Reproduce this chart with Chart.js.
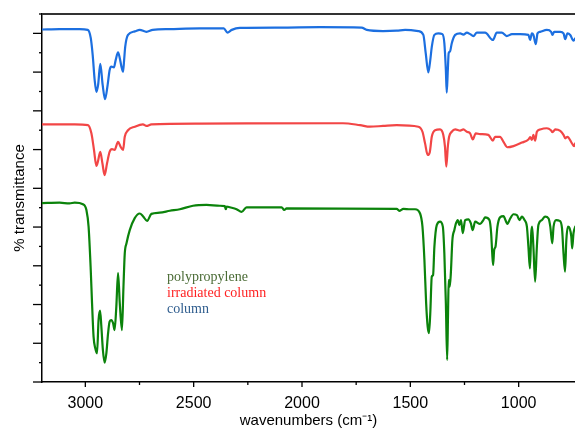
<!DOCTYPE html>
<html><head><meta charset="utf-8">
<script src="https://cdn.jsdelivr.net/npm/chart.js@4.4.1/dist/chart.umd.min.js"></script>
<style>html,body{margin:0;padding:0;background:#fff;overflow:hidden}canvas{display:block}</style>
</head><body>
<canvas id="c" width="575" height="428"></canvas>
<script>
const seriesLabels = ['column', 'irradiated column', 'polypropylene'];
const seriesColors = ['#1c6fe0', '#f24646', '#0b830b'];
const legendColors = ['#2f5d8e', '#ff2222', '#4a6b35'];

const columnWavenumbers = [3202,3119,3026,2989,2975,2966,2957,2949,2941,2931,2920,2909,2897,2888,2880,2868,2860,2849,2841,2834,2826,2821,2816,2803,2772,2749,2718,2689,2610,2472,2361,2344,2324,2287,2102,1917,1725,1701,1626,1563,1524,1463,1440,1429,1417,1408,1401,1389,1371,1352,1343,1336,1332,1327,1323,1317,1309,1293,1270,1255,1239,1224,1209,1193,1155,1119,1101,1078,1055,1031,993,955,947,939,932,921,913,901,870,850,844,836,808,793,785,775,762,747,739];
const columnValues = [91.0,91.1,91.1,90.9,88.8,84.4,78.0,74.9,76.7,82.1,76.7,73.0,76.7,80.5,81.4,81.2,83.1,85.1,83.6,81.6,80.1,83.1,86.5,89.6,90.5,90.9,90.4,90.9,91.1,91.3,91.3,90.2,90.9,91.4,91.5,91.6,91.5,90.9,90.6,90.7,90.9,90.6,89.6,84.9,79.9,83.1,86.5,89.6,90.0,89.8,87.5,80.5,74.7,80.5,84.9,85.3,87.4,89.6,90.0,89.7,90.2,89.8,89.3,90.2,90.2,88.3,90.2,90.2,89.3,89.8,89.8,89.6,88.3,90.0,89.6,87.2,90.0,90.4,90.9,90.4,89.6,90.4,90.4,90.0,88.5,90.0,89.6,88.1,88.7];

const irradiatedWavenumbers = [3202,3049,2988,2972,2960,2949,2942,2931,2921,2911,2900,2888,2877,2865,2849,2837,2826,2818,2803,2772,2734,2718,2695,2472,1811,1732,1686,1626,1563,1463,1444,1432,1420,1410,1401,1386,1363,1348,1340,1334,1327,1321,1309,1293,1270,1255,1239,1224,1212,1198,1178,1140,1119,1109,1086,1070,1052,1024,985,955,947,939,932,924,916,901,870,851,844,831,808,793,785,775,754,744,739];
const irradiatedValues = [66.5,66.5,66.3,64.2,59.9,55.8,56.9,59.4,56.4,53.4,56.4,59.4,60.1,59.9,62.0,60.7,59.9,63.3,65.0,65.9,66.5,66.1,66.5,66.7,66.8,66.3,65.9,66.1,66.3,65.9,64.6,61.6,58.6,59.4,63.3,65.0,65.2,63.8,60.7,55.6,60.7,63.3,64.6,65.2,64.9,65.2,64.6,64.2,62.6,64.2,64.0,63.8,62.3,63.3,63.3,62.0,60.6,60.9,61.8,62.6,63.2,62.5,63.8,62.3,64.6,65.2,65.5,65.0,64.5,65.2,64.8,63.8,62.9,63.3,61.6,60.9,61.6];

const polypropyleneWavenumbers = [3202,3119,3073,3049,3011,2995,2985,2975,2969,2962,2954,2946,2939,2932,2926,2919,2911,2903,2895,2888,2880,2872,2865,2857,2849,2841,2831,2824,2818,2810,2795,2772,2749,2734,2715,2695,2657,2610,2564,2503,2441,2379,2356,2352,2347,2333,2302,2279,2256,2094,2082,2071,1563,1551,1532,1501,1478,1455,1444,1435,1427,1420,1414,1408,1401,1395,1389,1378,1363,1350,1343,1336,1330,1326,1323,1318,1313,1306,1297,1289,1281,1274,1266,1258,1247,1232,1221,1212,1201,1178,1163,1155,1135,1127,1122,1118,1113,1107,1098,1086,1070,1058,1052,1039,1024,1008,996,985,973,962,955,948,942,938,932,924,916,909,893,878,862,854,845,839,827,811,800,793,786,780,773,765,757,753,747,739];
const polypropyleneValues = [46.2,46.3,46.1,46.3,45.9,44.4,40.1,28.9,20.3,11.7,8.7,7.4,16.0,18.4,14.3,8.3,5.0,7.4,12.6,15.6,16.0,15.2,13.4,19.4,28.1,20.3,13.4,24.6,33.2,35.8,39.2,42.3,43.5,42.8,41.6,43.4,43.7,44.2,44.6,45.5,45.7,45.5,45.4,44.6,45.3,45.1,44.6,43.9,45.1,45.1,44.4,44.8,44.7,44.2,44.7,44.6,44.6,43.5,40.1,31.5,20.3,14.3,12.6,17.7,27.2,27.6,34.9,40.5,41.4,40.1,33.2,20.3,5.7,17.7,26.3,24.6,28.1,36.6,39.2,41.0,41.8,40.5,41.8,38.4,41.8,42.0,41.0,39.2,41.4,40.8,41.8,42.5,41.8,38.4,33.2,30.2,34.1,34.9,40.1,42.5,42.8,41.4,40.8,42.2,43.3,43.1,41.8,42.7,41.8,40.1,34.9,29.3,38.4,40.1,34.9,25.9,34.9,40.5,41.8,42.7,42.2,40.1,35.8,40.1,41.8,41.6,39.7,33.2,28.5,36.6,40.1,39.7,37.5,34.5,38.4,40.1];

const xTickValues = [3000,2750,2500,2250,2000,1750,1500,1250,1000];
const xTickLabels = ['3000','','2500','','2000','','1500','','1000'];
const yTickValues = [0,5,10,15,20,25,30,35,40,45,50,55,60,65,70,75,80,85,90,95];

function pts(xs, ys) { return xs.map((x, i) => ({ x: x, y: ys[i] })); }

const seriesData = [
  pts(columnWavenumbers, columnValues),
  pts(irradiatedWavenumbers, irradiatedValues),
  pts(polypropyleneWavenumbers, polypropyleneValues)
];

const SANS = "'Liberation Sans', Arial, sans-serif";
const SERIF = "'Liberation Serif', 'Times New Roman', serif";

const decorations = {
  id: 'decorations',
  afterDraw(chart) {
    const { ctx, chartArea: a, scales } = chart;
    const x = scales.x, y = scales.y;
    ctx.save();
    ctx.strokeStyle = '#000';
    ctx.lineWidth = 1.3;
    yTickValues.forEach(v => {
      const py = y.getPixelForValue(v);
      const len = (v % 10 === 0) ? 9 : 3;
      ctx.beginPath(); ctx.moveTo(a.left - len, py); ctx.lineTo(a.left, py); ctx.stroke();
    });
    xTickValues.forEach(v => {
      const px = x.getPixelForValue(v);
      const len = (v % 500 === 0) ? 5 : 3;
      ctx.beginPath(); ctx.moveTo(px, a.bottom); ctx.lineTo(px, a.bottom + len); ctx.stroke();
    });
    ctx.strokeStyle = '#333';
    ctx.lineWidth = 2;
    ctx.beginPath(); ctx.moveTo(a.left, a.top); ctx.lineTo(a.right, a.top); ctx.stroke();
    // in-plot legend (text only)
    ctx.font = '14px ' + SERIF;
    ctx.textBaseline = 'alphabetic';
    ctx.textAlign = 'left';
    const order = [2, 1, 0];
    order.forEach((di, k) => {
      ctx.fillStyle = legendColors[di];
      ctx.fillText(chart.data.datasets[di].label, a.left + 125, a.top + 266.5 + k * 16.3);
    });
    ctx.restore();
  }
};

new Chart(document.getElementById('c'), {
  type: 'line',
  data: {
    datasets: seriesLabels.map((lab, i) => ({
      label: lab,
      data: seriesData[i],
      borderColor: seriesColors[i],
      backgroundColor: seriesColors[i],
      borderWidth: 2.2,
      pointRadius: 0,
      cubicInterpolationMode: 'monotone',
      borderJoinStyle: 'round',
      borderCapStyle: 'round',
      fill: false
    }))
  },
  options: {
    responsive: false,
    animation: false,
    devicePixelRatio: 1,
    layout: { padding: { top: 14, left: 0, right: 0, bottom: 0 } },
    plugins: { legend: { display: false }, tooltip: { enabled: false } },
    scales: {
      x: {
        type: 'linear',
        min: 740,
        max: 3200,
        reverse: true,
        grid: { display: false },
        border: { display: true, color: '#000', width: 1.5 },
        afterBuildTicks: s => { s.ticks = xTickValues.map(v => ({ value: v })); },
        afterFit: s => { s.height = 46; },
        ticks: {
          autoSkip: false, maxRotation: 0, padding: 4, color: '#000',
          font: { family: SANS, size: 16 },
          callback: v => { const i = xTickValues.indexOf(v); return i >= 0 ? xTickLabels[i] : ''; }
        },
        title: {
          display: true, text: 'wavenumbers (cm\u207B\u00B9)', color: '#000',
          font: { family: SANS, size: 15, lineHeight: 1 }, padding: { top: 0, bottom: 0 }
        }
      },
      y: {
        min: 0,
        max: 95,
        grid: { display: false },
        border: { display: true, color: '#000', width: 1.5 },
        afterBuildTicks: s => { s.ticks = yTickValues.map(v => ({ value: v })); },
        afterFit: s => { s.width = 42; },
        ticks: { display: false },
        title: {
          display: true, text: '% transmittance', color: '#000',
          font: { family: SANS, size: 15, lineHeight: 1.2 }, padding: { top: 11, bottom: 0 }
        }
      }
    }
  },
  plugins: [decorations]
});
</script>
</body></html>
